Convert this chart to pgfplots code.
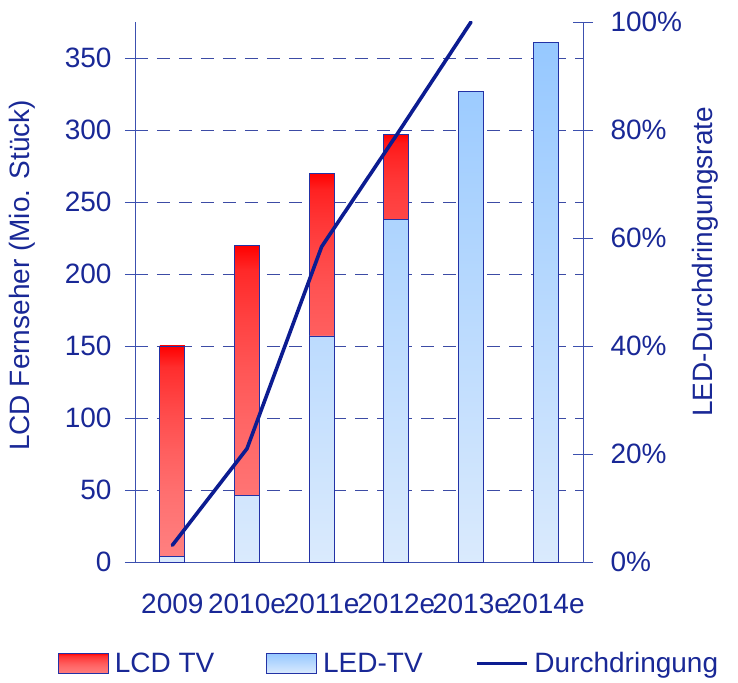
\documentclass[border=0pt]{standalone}
\usepackage{pgfplots}
\pgfplotsset{compat=1.18}
\usepackage{fontspec}
\setmainfont{Liberation Sans}
\definecolor{txt}{RGB}{25,40,150}
\definecolor{ln}{RGB}{12,28,145}
\definecolor{grd}{RGB}{60,75,165}
\definecolor{bord}{RGB}{35,50,165}
\definecolor{axc}{RGB}{60,80,175}
\definecolor{bluetop}{RGB}{150,200,255}
\definecolor{bluebot}{RGB}{218,234,253}
\pgfdeclareverticalshading{redA}{100bp}{rgb(0bp)=(1,.502,.502); rgb(25bp)=(1,.502,.502); rgb(40bp)=(1,.437,.437); rgb(50bp)=(1,.371,.371); rgb(60bp)=(1,.286,.286); rgb(70bp)=(1,.176,.176); rgb(75bp)=(1,0,0); rgb(100bp)=(1,0,0)}
\pgfdeclareverticalshading{redB}{100bp}{rgb(0bp)=(1,.455,.455); rgb(25bp)=(1,.455,.455); rgb(40bp)=(1,.396,.396); rgb(50bp)=(1,.337,.337); rgb(60bp)=(1,.259,.259); rgb(70bp)=(1,.159,.159); rgb(75bp)=(1,0,0); rgb(100bp)=(1,0,0)}
\pgfdeclareverticalshading{redC}{100bp}{rgb(0bp)=(1,.373,.373); rgb(25bp)=(1,.373,.373); rgb(40bp)=(1,.325,.325); rgb(50bp)=(1,.276,.276); rgb(60bp)=(1,.213,.213); rgb(70bp)=(1,.131,.131); rgb(75bp)=(1,0,0); rgb(100bp)=(1,0,0)}
\pgfdeclareverticalshading{redD}{100bp}{rgb(0bp)=(1,.275,.275); rgb(25bp)=(1,.275,.275); rgb(40bp)=(1,.239,.239); rgb(50bp)=(1,.204,.204); rgb(60bp)=(1,.157,.157); rgb(70bp)=(1,.096,.096); rgb(75bp)=(1,0,0); rgb(100bp)=(1,0,0)}
\pgfdeclareverticalshading{redL}{100bp}{rgb(0bp)=(1,.49,.49); rgb(25bp)=(1,.49,.49); rgb(40bp)=(1,.426,.426); rgb(50bp)=(1,.363,.363); rgb(60bp)=(1,.279,.279); rgb(70bp)=(1,.172,.172); rgb(75bp)=(1,0,0); rgb(100bp)=(1,0,0)}
\newcommand{\bigf}{\fontsize{28bp}{32bp}\selectfont}
\begin{document}
\begin{tikzpicture}
\pgfplotsset{
  common/.style={
    width=448bp, height=540bp, scale only axis,
    xmin=-0.5, xmax=5.5,
    /pgf/number format/assume math mode=true,
    tick label style={font=\bigf, text=txt},
    tick align=center,
    major tick length=20bp,
    minor tick length=20bp,
    every tick/.style={axc, line width=0.8bp},
    axis line style={axc, line width=0.8bp},
  },
  redbar/.style={draw=bord, line width=0.8bp, shade, shading=#1, forget plot},
}
\begin{axis}[common, name=a,
  ymin=0, ymax=375,
  ybar stacked, bar width=25bp,
  axis x line*=bottom, axis y line*=left,
  xtick={0,...,5},
  xticklabels={2009,2010e,2011e,2012e,2013e,2014e},
  x tick style={draw=none},
  minor xtick={-0.5,0.5,1.5,2.5,3.5,4.5,5.5},
  ytick={0,50,...,350},
  ymajorgrids,
  grid style={grd, dash pattern=on 13bp off 9bp, line width=0.8bp},
  xticklabel style={yshift=-18bp},
  yticklabel style={xshift=-10bp},
  ylabel={LCD Fernseher (Mio. Stück)},
  every axis y label/.style={at={(axis description cs:-0.252,0.531)}, rotate=90, anchor=center, font=\bigf, text=txt},
  legend columns=3,
  legend style={draw=none, fill=none, font=\bigf, text=txt,
    at={(axis description cs:-0.179,-0.16)}, anchor=north west,
    /tikz/every even column/.append style={column sep=50bp},
    /tikz/every odd column/.append style={column sep=4bp}},
  legend image code/.code={\draw[#1, line width=0.8bp] (0bp,-10bp) rectangle (50bp,10bp);},
]
\addplot[draw=bord, line width=0.8bp, top color=bluetop, bottom color=bluebot, forget plot]
  coordinates {(0,4) (1,46) (2,157) (3,238) (4,327) (5,361)};
\addplot[redbar=redA] coordinates {(0,146) (1,0) (2,0) (3,0) (4,0) (5,0)};
\addplot[redbar=redB] coordinates {(0,0) (1,174) (2,0) (3,0) (4,0) (5,0)};
\addplot[redbar=redC] coordinates {(0,0) (1,0) (2,113) (3,0) (4,0) (5,0)};
\addplot[redbar=redD] coordinates {(0,0) (1,0) (2,0) (3,59) (4,0) (5,0)};
\addlegendimage{draw=bord, shade, shading=redL}
\addlegendentry{LCD TV}
\addlegendimage{draw=bord, top color=bluetop, bottom color=bluebot}
\addlegendentry{LED-TV}
\addlegendimage{legend image code/.code={\draw[ln, line width=3.8bp] (0bp,0bp) -- (50bp,0bp);}}
\addlegendentry{Durchdringung}
\end{axis}
\begin{axis}[common,
  ymin=0, ymax=100,
  axis x line=none, axis y line*=right,
  ytick={0,20,...,100},
  yticklabel={\pgfmathprintnumber{\tick}\%},
  yticklabel style={xshift=14bp},
  ylabel={LED-Durchdringungsrate},
  every axis y label/.style={at={(axis description cs:1.272,0.556)}, rotate=90, anchor=center, font=\bigf, text=txt},
]
\addplot[ln, line width=3.6bp, line cap=round, line join=round, mark=none]
  coordinates {(0,3.1) (1,21) (2,58.4) (3,79) (4,100)};
\end{axis}
\pgfresetboundingbox
\path ([xshift=-135bp,yshift=-121bp]a.south west) rectangle ([xshift=155bp,yshift=22bp]a.north east);
\end{tikzpicture}
\end{document}
